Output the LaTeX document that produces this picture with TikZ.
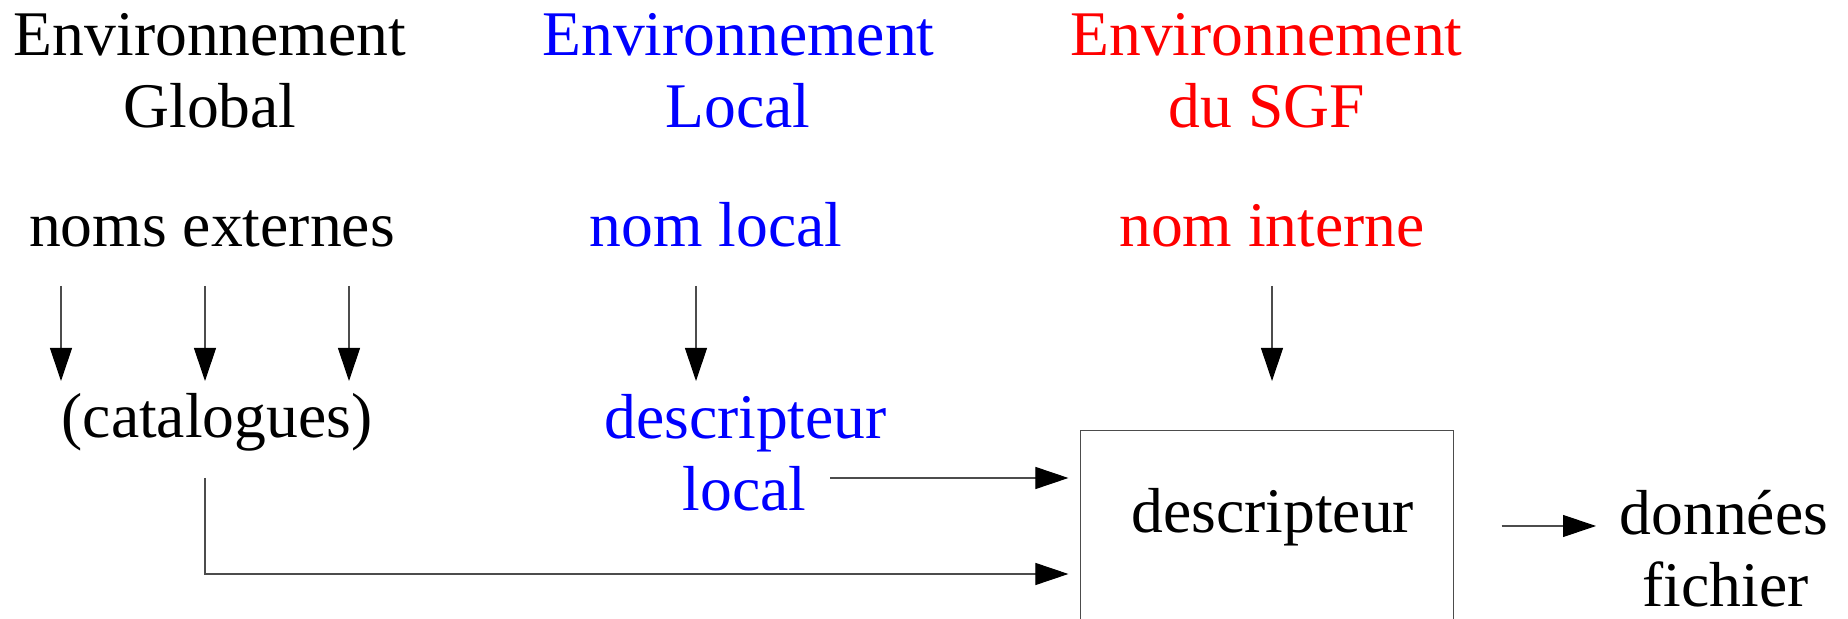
\documentclass[tikz,border=0pt]{standalone}
\usepackage{fontspec}
\setmainfont{Liberation Serif}
\usetikzlibrary{arrows.meta}
\begin{document}
\begin{tikzpicture}[x=0.5pt,y=-0.5pt,
  lbl/.style={anchor=base,inner sep=0pt,font=\fontsize{31.8}{36}\selectfont},
  ln/.style={line width=0.55pt,draw=black!70},
  arr/.style={ln,-{Triangle[length=16.5pt,width=11pt,color=black]}},
  boxframe/.style={draw=black!70,line width=0.55pt,inner sep=0pt,anchor=north west}]
\useasboundingbox (0,0) rectangle (1848,619);
\clip (0,0) rectangle (1848,619);

% column headings
\node[lbl] (g1) at (210,56) {Environnement};
\node[lbl] (g2) at (210,128) {Global};
\node[lbl,blue] (l1) at (738.5,56) {Environnement};
\node[lbl,blue] (l2) at (738,128) {Local};
\node[lbl,red] (s1) at (1266.5,56) {Environnement};
\node[lbl,red] (s2) at (1267,128) {du SGF};

% names
\node[lbl] (ext) at (212,247) {noms externes};
\node[lbl,blue] (nl) at (716,247) {nom local};
\node[lbl,red] (ni) at (1272,247) {nom interne};

% intermediate level
\node[lbl] (cat) at (217,438) {(catalogues)};
\node[lbl,blue] (dl1) at (745.5,439) {descripteur};
\node[lbl,blue] (dl2) at (744.6,510.7) {local};

% file descriptor box (open at the bottom)
\node[boxframe,minimum width=186.5pt,minimum height=150pt] (box) at (1080,430) {};
\node[lbl] (desc) at (1272.7,533) {descripteur};

% output
\node[lbl] (don) at (1723.8,535) {données};
\node[lbl] (fic) at (1725.5,606.7) {fichier};

% connector end points
\coordinate (e1) at (61,286);   \coordinate (c1) at (61,381);
\coordinate (e2) at (205,286);  \coordinate (c2) at (205,381);
\coordinate (e3) at (349,286);  \coordinate (c3) at (349,381);
\coordinate (n1) at (696,286);  \coordinate (d1) at (696,381);
\coordinate (i1) at (1272,286); \coordinate (b1) at (1272,381);
\coordinate (dlout) at (830,478); \coordinate (bin1) at (1068.4,478);
\coordinate (catout) at (205,478); \coordinate (bin2) at (1068.4,574);
\coordinate (bout) at (1501.5,526); \coordinate (donin) at (1596,526);

% connectors
\draw[arr] (e1) -- (c1);
\draw[arr] (e2) -- (c2);
\draw[arr] (e3) -- (c3);
\draw[arr] (n1) -- (d1);
\draw[arr] (i1) -- (b1);
\draw[arr] (dlout) -- (bin1);
\draw[arr] (catout) |- (bin2);
\draw[arr] (bout) -- (donin);
\end{tikzpicture}
\end{document}
